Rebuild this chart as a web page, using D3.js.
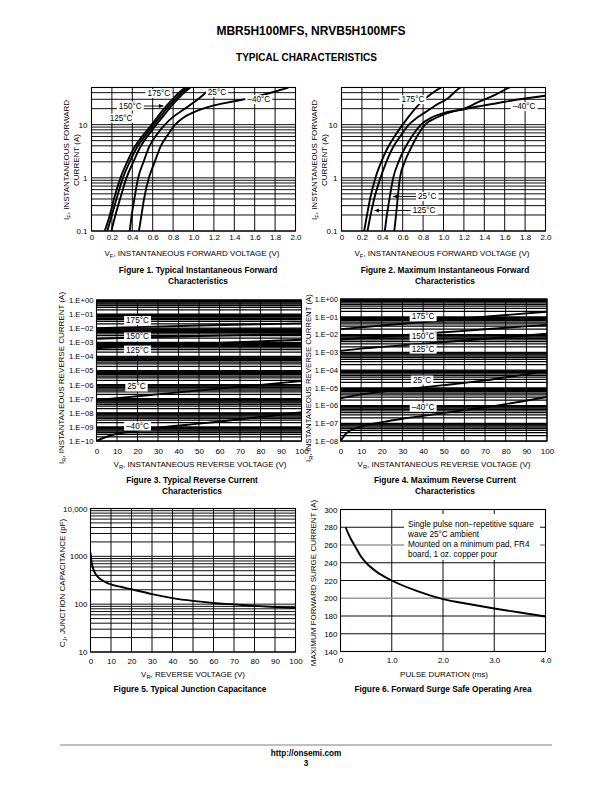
<!DOCTYPE html>
<html><head><meta charset="utf-8">
<script src="https://cdn.jsdelivr.net/npm/d3@7"></script>
<style>
body{margin:0;background:#fff;}
svg{display:block;}
</style></head><body>
<svg id="page" width="612" height="792"></svg>
<script>
// ================= DATA =================
// Figure 1: Typical instantaneous forward characteristics [V, A]
const fig1XTicks = [0,0.2,0.4,0.6,0.8,1.0,1.2,1.4,1.6,1.8,2.0];
const fig1YTicks = [0.1,1,10];
const fig1Temps = ["175°C","150°C","125°C","25°C","–40°C"];
const fig1_175 = [[0.13,0.1],[0.18,0.2],[0.22,0.4],[0.284,1],[0.35,2],[0.43,4],[0.51,6.5],[0.59,10],[0.66,15],[0.73,22],[0.8,31],[0.87,42],[0.92,50]];
const fig1_150 = [[0.155,0.1],[0.2,0.2],[0.245,0.4],[0.308,1],[0.375,2],[0.455,4],[0.535,6.5],[0.61,10],[0.685,15],[0.755,22],[0.825,31],[0.895,42],[0.945,50]];
const fig1_125 = [[0.195,0.1],[0.235,0.2],[0.28,0.4],[0.343,1],[0.41,2],[0.485,4],[0.56,6.5],[0.635,10],[0.71,15],[0.78,22],[0.85,31],[0.92,42],[0.97,50]];
const fig1_25  = [[0.375,0.1],[0.395,0.2],[0.42,0.4],[0.458,1],[0.51,2],[0.57,4],[0.64,6.5],[0.72,10],[0.8,14],[0.9,19],[1.0,26],[1.1,37],[1.17,50]];
const fig1_m40 = [[0.465,0.1],[0.49,0.2],[0.515,0.4],[0.563,1],[0.62,2],[0.68,4],[0.75,6.5],[0.82,10],[0.9,13.5],[1.0,17],[1.2,23],[1.4,27.5],[1.6,33],[1.8,42],[1.93,50]];

// Figure 2: Maximum instantaneous forward characteristics [V, A]
const fig2Temps = ["175°C","–40°C","25°C","125°C"];
const fig2_175 = [[0.222,0.1],[0.25,0.2],[0.28,0.4],[0.333,1],[0.39,2],[0.45,3.6],[0.52,6],[0.6,10],[0.68,16],[0.76,24],[0.84,33],[0.92,43],[0.99,52]];
const fig2_125 = [[0.255,0.1],[0.285,0.2],[0.32,0.4],[0.382,1],[0.44,2],[0.5,3.6],[0.575,6],[0.66,10],[0.74,13.5],[0.82,17],[0.92,23],[1.04,31],[1.15,48],[1.18,52]];
const fig2_25  = [[0.425,0.1],[0.445,0.2],[0.47,0.4],[0.507,1],[0.56,2],[0.62,3.6],[0.69,6],[0.78,10],[0.88,13.5],[1.0,16.5],[1.2,20],[1.35,27],[1.5,36],[1.66,52]];
const fig2_m40 = [[0.517,0.1],[0.535,0.2],[0.55,0.4],[0.573,1],[0.62,2],[0.68,3.6],[0.74,6],[0.82,10],[0.92,13.2],[1.0,15.5],[1.2,19.5],[1.4,23],[1.6,27],[1.8,31],[2.0,35]];

// Figure 3: Typical reverse current [V, A]
const fig3XTicks = [0,10,20,30,40,50,60,70,80,90,100];
const fig3YTicks = [1e0,1e-1,1e-2,1e-3,1e-4,1e-5,1e-6,1e-7,1e-8,1e-9,1e-10];
const fig3Temps = ["175°C","150°C","125°C","25°C","–40°C"];
const fig3_175 = [[0,1.0e-2],[20,1.2e-2],[50,1.55e-2],[80,1.9e-2],[100,2.2e-2]];
const fig3_150 = [[0,1.8e-3],[20,2.2e-3],[50,2.8e-3],[80,3.4e-3],[100,3.8e-3]];
const fig3_125 = [[0,3.8e-4],[10,4.8e-4],[30,6.5e-4],[50,8.0e-4],[75,1.1e-3],[100,1.5e-3]];
const fig3_25  = [[0,8e-8],[20,1.5e-7],[40,2.8e-7],[60,5.2e-7],[80,9.5e-7],[100,1.8e-6]];
const fig3_m40 = [[0,1e-10],[5,2e-10],[10,3.2e-10],[20,5.5e-10],[30,8.5e-10],[50,1.7e-9],[70,3.4e-9],[100,1.1e-8]];

// Figure 4: Maximum reverse current [V, A]
const fig4YTicks = [1e0,1e-1,1e-2,1e-3,1e-4,1e-5,1e-6,1e-7,1e-8];
const fig4Temps = ["175°C","150°C","125°C","25°C","–40°C"];
const fig4_175 = [[0,2e-2],[20,3.2e-2],[40,5e-2],[60,8e-2],[80,1.25e-1],[100,1.9e-1]];
const fig4_150 = [[0,5.2e-3],[20,7.5e-3],[40,1.1e-2],[60,1.6e-2],[80,2.4e-2],[100,3.5e-2]];
const fig4_125 = [[0,1.2e-3],[10,1.6e-3],[20,2e-3],[40,3e-3],[60,4.6e-3],[80,7e-3],[100,1.1e-2]];
const fig4_25  = [[0,2.5e-6],[10,4.2e-6],[20,6e-6],[30,8e-6],[50,1.4e-5],[70,2.6e-5],[100,9e-5]];
const fig4_m40 = [[0,1e-8],[3,2.8e-8],[10,6.5e-8],[20,1.15e-7],[30,1.8e-7],[40,2.6e-7],[60,5.5e-7],[80,1.2e-6],[100,3e-6]];

// Figure 5: Typical junction capacitance [V, pF]
const fig5YTicks = [10,100,1000,10000];
const fig5YLabels = ["10","100","1000","10,000"];
const fig5Cap = [[0,1200],[0.3,900],[0.7,700],[1.5,520],[3,400],[5,330],[7.5,285],[10,258],[15,228],[20,205],[30,162],[40,134],[50,117],[60,106],[70,99],[80,92],[90,87],[100,83]];

// Figure 6: Forward surge safe operating area [ms, A]
const fig6XTicks = [0,1,2,3,4];
const fig6YTicks = [140,160,180,200,220,240,260,280,300];
const fig6Grey = [200,260];
const fig6Surge = [[0.1,280],[0.15,273],[0.2,267],[0.3,257],[0.4,247],[0.5,240],[0.7,230],[1.0,220],[1.5,208],[2.0,199],[2.5,193.5],[3.0,188.5],[3.5,184],[4.0,179.5]];
const fig6Note = ["Single pulse non−repetitive square","wave 25°C ambient","Mounted on a minimum pad, FR4","board, 1 oz. copper pour"];

// ================= DRAWING =================
const FONT = '"Liberation Sans", Arial, Helvetica, sans-serif';
const svg = d3.select("#page").attr("font-family", FONT);
const defs = svg.append("defs");
svg.append("rect").attr("width",612).attr("height",792).attr("fill","#fff");

function logGrid(lo, hi){
  const out=[];
  for(let e=Math.floor(Math.log10(lo)); e<=Math.ceil(Math.log10(hi)); e++){
    for(let k=1;k<10;k++){ const v=k*Math.pow(10,e); if(v>=lo*0.999 && v<=hi*1.001) out.push(v); }
  }
  return out;
}

function txt(g, x, y, str, size, opts={}){
  const t = g.append("text").attr("x",x).attr("y",y).attr("font-size",size)
    .attr("text-anchor", opts.anchor||"middle").attr("fill","#000");
  if(opts.bold) t.attr("font-weight","bold");
  if(opts.rotate) t.attr("transform",`rotate(-90,${x},${y})`);
  if(opts.parts){
    opts.parts.forEach(p=>{
      const s = t.append("tspan").text(p[0]);
      if(p[1]==="sub") s.attr("font-size",size*0.72).attr("dy",size*0.25);
      if(p[1]==="back") s.attr("dy",-size*0.25);
    });
  } else t.text(str);
  return t;
}

function tag(g, x, y, str, size){
  const t = g.append("text").attr("x",x).attr("y",y).attr("text-anchor","middle")
    .attr("dominant-baseline","central").attr("font-size",size).attr("fill","#000").text(str);
  const b = t.node().getBBox();
  g.insert("rect", ()=>t.node()).attr("x",b.x-2).attr("y",b.y).attr("width",b.width+4)
    .attr("height",b.height).attr("fill","#fff");
  return b;
}

function arrow(g, xa, ya, xb, yb){ // line from a to b, arrowhead at b
  g.append("line").attr("x1",xa).attr("y1",ya).attr("x2",xb).attr("y2",yb).attr("stroke","#000").attr("stroke-width",0.9);
  const ang = Math.atan2(yb-ya, xb-xa), L=4.5, Wd=2;
  const p1=[xb-L*Math.cos(ang)+Wd*Math.sin(ang), yb-L*Math.sin(ang)-Wd*Math.cos(ang)];
  const p2=[xb-L*Math.cos(ang)-Wd*Math.sin(ang), yb-L*Math.sin(ang)+Wd*Math.cos(ang)];
  g.append("path").attr("d",`M${xb},${yb}L${p1}L${p2}Z`).attr("fill","#000");
}

let clipN = 0;
function panel(o){
  const g = svg.append("g");
  const [x0,x1] = o.x.range(), [yb,yt] = o.y.range();
  const cid = "clip"+(clipN++);
  defs.append("clipPath").attr("id",cid).append("rect").attr("x",x0).attr("y",yt).attr("width",x1-x0).attr("height",yb-yt);
  const gw = o.gw||0.95;
  g.append("g").selectAll("line").data(o.xGrid).join("line")
    .attr("x1",d=>o.x(d)).attr("x2",d=>o.x(d)).attr("y1",yb).attr("y2",yt)
    .attr("stroke","#000").attr("stroke-width",o.gwx||gw);
  g.append("g").selectAll("line").data(o.yGrid).join("line")
    .attr("x1",x0).attr("x2",x1).attr("y1",d=>o.y(d)).attr("y2",d=>o.y(d))
    .attr("stroke",d=>o.greyY && o.greyY.includes(d) ? "#9a9a9a" : "#000")
    .attr("stroke-width",d=>o.greyY && o.greyY.includes(d) ? 1.7 : gw);
  g.append("rect").attr("x",x0).attr("y",yt).attr("width",x1-x0).attr("height",yb-yt)
    .attr("fill","none").attr("stroke","#000").attr("stroke-width",1.1);
  if(o.before) o.before(g);
  const cg = g.append("g").attr("clip-path",`url(#${cid})`);
  const line = d3.line().x(d=>o.x(d[0])).y(d=>o.y(d[1])).curve(d3.curveMonotoneX);
  o.series.forEach(s=>cg.append("path").datum(s).attr("d",line).attr("fill","none")
    .attr("stroke","#000").attr("stroke-width",1.9).attr("stroke-linejoin","round"));
  const ax = g.append("g").attr("transform",`translate(0,${yb})`)
    .call(d3.axisBottom(o.x).tickValues(o.xTicks).tickFormat(o.xFmt).tickSize(0).tickPadding(o.xPad));
  ax.select(".domain").remove();
  ax.attr("font-family",FONT).attr("font-size",o.fs);
  const ay = g.append("g").attr("transform",`translate(${x0},0)`)
    .call(d3.axisLeft(o.y).tickValues(o.yTicks).tickFormat(o.yFmt).tickSize(0).tickPadding(o.yPad));
  ay.select(".domain").remove();
  ay.attr("font-family",FONT).attr("font-size",o.yfs||o.fs);
  g.selectAll(".tick text").attr("fill","#000");
  return g;
}

// ---------- header / footer ----------
txt(svg, 311, 34.5, "MBR5H100MFS, NRVB5H100MFS", 12, {bold:true});
txt(svg, 306.5, 60.5, "TYPICAL CHARACTERISTICS", 10, {bold:true});
svg.append("line").attr("x1",60).attr("x2",552).attr("y1",745).attr("y2",745).attr("stroke","#aaa").attr("stroke-width",1.5);
txt(svg, 306, 755.5, "http://onsemi.com", 8.2, {bold:true});
txt(svg, 306, 766, "3", 8.2, {bold:true});

const FS = 8;     // tick labels
const TS = 8;     // axis titles
const CS = 8.3;   // captions
const LS = 8.2;   // curve tags
const fmtV = d => d===0 ? "0" : d3.format(".1f")(d);
const fmtE = d => { const e = Math.round(Math.log10(d)); return "1.E" + (e<0 ? "−" : "+") + String(Math.abs(e)).padStart(2,"0"); };

// ---------- Figure 1 ----------
{
  const x = d3.scaleLinear().domain([0,2]).range([91.5,295.5]);
  const y = d3.scaleLog().domain([0.1,50]).range([231,87.5]);
  const g = panel({x,y,xGrid:fig1XTicks,yGrid:logGrid(0.1,50),series:[fig1_175,fig1_150,fig1_125,fig1_25,fig1_m40],
    xTicks:fig1XTicks,xFmt:fmtV,xPad:3,yTicks:fig1YTicks,yFmt:d=>String(d),yPad:4,fs:FS});
  const ann = [[0.66,38.5],[0.38,22.4],[0.29,13.3],[1.23,40],[1.64,29.7]];
  const b = fig1Temps.map((t,i)=>tag(g, x(ann[i][0]), y(ann[i][1]), t, LS));
  arrow(g, b[1].x+b[1].width+2, y(22.4), x(0.705), y(22.4));
  txt(svg, 192, 256, null, TS, {parts:[["V"],["F","sub"],[", INSTANTANEOUS FORWARD VOLTAGE (V)","back"]]});
  txt(svg, 69, 160, null, TS, {rotate:true,parts:[["I"],["F","sub"],[", INSTANTANEOUS FORWARD","back"]]});
  txt(svg, 79, 160, "CURRENT (A)", TS, {rotate:true});
  txt(svg, 198, 273, "Figure 1. Typical Instantaneous Forward", CS, {bold:true});
  txt(svg, 198, 284, "Characteristics", CS, {bold:true});
}

// ---------- Figure 2 ----------
{
  const x = d3.scaleLinear().domain([0,2]).range([341.5,545.5]);
  const y = d3.scaleLog().domain([0.1,50]).range([231,87.5]);
  const g = panel({x,y,xGrid:fig1XTicks,yGrid:logGrid(0.1,50),series:[fig2_175,fig2_125,fig2_25,fig2_m40],
    xTicks:fig1XTicks,xFmt:fmtV,xPad:3,yTicks:fig1YTicks,yFmt:d=>String(d),yPad:4,fs:FS});
  const ann = [[0.70,29.6],[1.79,21.9],[0.84,0.446],[0.81,0.243]];
  const b = fig2Temps.map((t,i)=>tag(g, x(ann[i][0]), y(ann[i][1]), t, LS));
  arrow(g, b[2].x-2, y(0.446), x(0.505), y(0.446));
  arrow(g, b[3].x-2, y(0.243), x(0.322), y(0.243));
  txt(svg, 442, 256, null, TS, {parts:[["V"],["F","sub"],[", INSTANTANEOUS FORWARD VOLTAGE (V)","back"]]});
  txt(svg, 317, 160, null, TS, {rotate:true,parts:[["I"],["F","sub"],[", INSTANTANEOUS FORWARD","back"]]});
  txt(svg, 327, 160, "CURRENT (A)", TS, {rotate:true});
  txt(svg, 445, 273, "Figure 2. Maximum Instantaneous Forward", CS, {bold:true});
  txt(svg, 445, 284, "Characteristics", CS, {bold:true});
}

// ---------- Figure 3 ----------
{
  const x = d3.scaleLinear().domain([0,100]).range([96.5,301.5]);
  const y = d3.scaleLog().domain([1e-10,1]).range([441,300]);
  const g = panel({x,y,xGrid:fig3XTicks,yGrid:logGrid(1e-10,1),gw:1.25,gwx:0.95,series:[fig3_175,fig3_150,fig3_125,fig3_25,fig3_m40],
    xTicks:fig3XTicks,xFmt:d=>String(d),xPad:7,yTicks:fig3YTicks,yFmt:fmtE,yPad:3,fs:FS,yfs:7.7});
  const ann = [[20,3.5e-2],[20,2.4e-3],[20,2.8e-4],[19.5,6.8e-7],[20,1.15e-9]];
  fig3Temps.forEach((t,i)=>tag(g, x(ann[i][0]), y(ann[i][1]), t, LS));
  txt(svg, 200, 466.5, null, TS, {parts:[["V"],["R","sub"],[", INSTANTANEOUS REVERSE VOLTAGE (V)","back"]]});
  txt(svg, 64, 378, null, TS, {rotate:true,parts:[["I"],["R","sub"],[", INSTANTANEOUS REVERSE CURRENT (A)","back"]]});
  txt(svg, 192, 483, "Figure 3. Typical Reverse Current", CS, {bold:true});
  txt(svg, 192, 494, "Characteristics", CS, {bold:true});
}

// ---------- Figure 4 ----------
{
  const x = d3.scaleLinear().domain([0,100]).range([340.5,547]);
  const y = d3.scaleLog().domain([1e-8,1]).range([441,299]);
  const g = panel({x,y,xGrid:fig3XTicks,yGrid:logGrid(1e-8,1),gw:1.25,gwx:0.95,series:[fig4_175,fig4_150,fig4_125,fig4_25,fig4_m40],
    xTicks:fig3XTicks,xFmt:d=>String(d),xPad:7,yTicks:fig4YTicks,yFmt:fmtE,yPad:2.5,fs:FS,yfs:7.3});
  const ann = [[40,0.1],[40,7.5e-3],[40,1.5e-3],[39.5,2.7e-5],[40,8e-7]];
  fig4Temps.forEach((t,i)=>tag(g, x(ann[i][0]), y(ann[i][1]), t, LS));
  txt(svg, 444, 466.5, null, TS, {parts:[["V"],["R","sub"],[", INSTANTANEOUS REVERSE VOLTAGE (V)","back"]]});
  txt(svg, 311, 378, null, 7.8, {rotate:true,parts:[["I"],["R","sub"],[", INSTANTANEOUS REVERSE CURRENT (A)","back"]]});
  txt(svg, 445, 483, "Figure 4. Maximum Reverse Current", CS, {bold:true});
  txt(svg, 445, 494, "Characteristics", CS, {bold:true});
}

// ---------- Figure 5 ----------
{
  const x = d3.scaleLinear().domain([0,100]).range([90.5,295.5]);
  const y = d3.scaleLog().domain([10,10000]).range([652,508.5]);
  panel({x,y,xGrid:fig3XTicks,yGrid:logGrid(10,10000),series:[fig5Cap],
    xTicks:fig3XTicks,xFmt:d=>String(d),xPad:6,yTicks:fig5YTicks,yFmt:(d,i)=>fig5YLabels[i],yPad:3,fs:FS});
  txt(svg, 193, 676.5, null, TS, {parts:[["V"],["R","sub"],[", REVERSE VOLTAGE (V)","back"]]});
  txt(svg, 65, 583, null, TS, {rotate:true,parts:[["C"],["J","sub"],[", JUNCTION CAPACITANCE (pF)","back"]]});
  txt(svg, 190, 692, "Figure 5. Typical Junction Capacitance", CS, {bold:true});
}

// ---------- Figure 6 ----------
{
  const x = d3.scaleLinear().domain([0,4]).range([340.5,545.5]);
  const y = d3.scaleLinear().domain([140,300]).range([651.5,509.5]);
  panel({x,y,xGrid:[1,2,3],yGrid:fig6YTicks.slice(1,-1),greyY:fig6Grey,series:[fig6Surge],
    xTicks:fig6XTicks,xFmt:fmtV,xPad:6,yTicks:fig6YTicks,yFmt:d=>String(d),yPad:3,fs:FS,
    before:(g)=>{
      g.append("rect").attr("x",404).attr("y",514).attr("width",136).attr("height",46).attr("fill","#fff");
      fig6Note.forEach((s,i)=>txt(g, 408, 527.3 + i*9.8, s, 8.2, {anchor:"start"}));
    }});
  txt(svg, 444, 676.5, "PULSE DURATION (ms)", TS);
  txt(svg, 316, 583, "MAXIMUM FORWARD SURGE CURRENT (A)", TS, {rotate:true});
  txt(svg, 443, 692, "Figure 6. Forward Surge Safe Operating Area", CS, {bold:true});
}
</script>
</body></html>
